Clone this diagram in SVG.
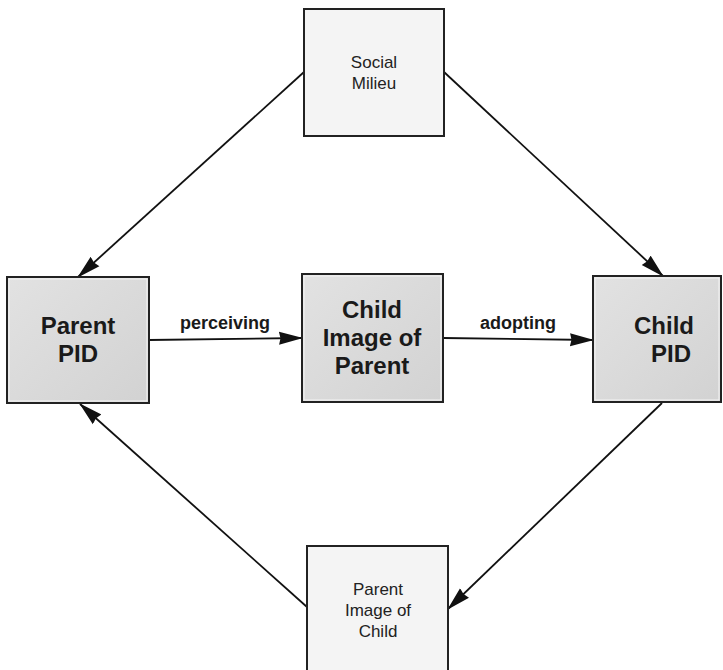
<svg xmlns="http://www.w3.org/2000/svg" width="723" height="670" viewBox="0 0 723 670">
<defs>
<linearGradient id="g" x1="0" y1="0" x2="1" y2="1">
<stop offset="0" stop-color="#e2e2e2"/>
<stop offset="1" stop-color="#d2d2d2"/>
</linearGradient>
<marker id="ah" markerUnits="userSpaceOnUse" markerWidth="24" markerHeight="14" refX="23" refY="7" orient="auto">
<path d="M0,0.5 L24,7 L0,13.5 L1.5,7 z" fill="#111"/>
</marker>
</defs>
<style>
.light{fill:#f4f4f4;stroke:#222;stroke-width:2}
.dark{fill:url(#g);stroke:#222;stroke-width:2}
.inner{fill:none;stroke:#f4f4f4;stroke-width:1}
.t{font-family:"Liberation Sans",Arial,sans-serif;font-size:17px;fill:#222;text-anchor:middle}
.b{font-family:"Liberation Sans",Arial,sans-serif;font-size:24px;font-weight:bold;fill:#1a1a1a;text-anchor:middle}
.l{font-family:"Liberation Sans",Arial,sans-serif;font-size:18px;font-weight:bold;fill:#1a1a1a;text-anchor:middle}
.c{stroke:#111;stroke-width:1.8;fill:none;marker-end:url(#ah)}
</style>
<rect width="723" height="670" fill="#ffffff"/>
<g id="connectors">
<line class="c" x1="304" y1="72" x2="78" y2="277"/>
<line class="c" x1="444" y1="72" x2="663" y2="276"/>
<line class="c" x1="149" y1="340" x2="302" y2="338"/>
<text class="l" x="225" y="329">perceiving</text>
<line class="c" x1="443" y1="338" x2="593" y2="340"/>
<text class="l" x="518" y="329">adopting</text>
<line class="c" x1="662" y1="403" x2="448" y2="609"/>
<line class="c" x1="307" y1="607" x2="80" y2="404"/>
</g>
<g id="social">
<rect class="light" x="304" y="9" width="140" height="127"/>
<text class="t" x="374" y="68">Social</text>
<text class="t" x="374" y="89">Milieu</text>
</g>
<g id="parentpid">
<rect class="dark" x="7" y="277" width="142" height="126"/>
<rect class="inner" x="9" y="279" width="138" height="122"/>
<text class="b" x="78" y="334">Parent</text>
<text class="b" x="78" y="362">PID</text>
</g>
<g id="childimage">
<rect class="dark" x="302" y="274" width="141" height="128"/>
<rect class="inner" x="304" y="276" width="137" height="124"/>
<text class="b" x="372" y="318">Child</text>
<text class="b" x="372" y="346">Image of</text>
<text class="b" x="372" y="374">Parent</text>
</g>
<g id="childpid">
<rect class="dark" x="593" y="276" width="128" height="126"/>
<rect class="inner" x="595" y="278" width="124" height="122"/>
<text class="b" x="664" y="334">Child</text>
<text class="b" x="671" y="362">PID</text>
</g>
<g id="parentimage">
<rect class="light" x="307" y="546" width="141" height="130"/>
<text class="t" x="378" y="595">Parent</text>
<text class="t" x="378" y="616">Image of</text>
<text class="t" x="378" y="637">Child</text>
</g>
</svg>
